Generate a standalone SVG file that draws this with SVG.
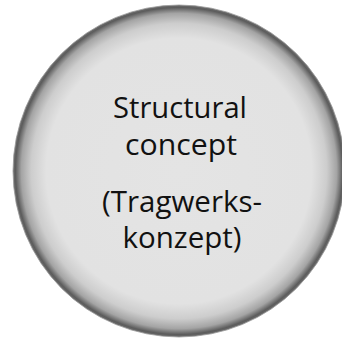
<svg xmlns="http://www.w3.org/2000/svg" width="342" height="339" viewBox="0 0 342 339">
  <defs>
    <!-- soft sphere shading: flat light face, darkening toward the rim -->
    <radialGradient id="discShade" cx="0.5" cy="0.5" r="0.5">
      <stop offset="0" stop-color="#e4e4e4"/>
      <stop offset="0.8" stop-color="#e2e2e2"/>
      <stop offset="0.89" stop-color="#cdcdcd"/>
      <stop offset="0.95" stop-color="#a4a4a4"/>
      <stop offset="0.985" stop-color="#5c5c5c"/>
      <stop offset="1" stop-color="#6e6e6e"/>
    </radialGradient>
    <style>
      .label { font-family: "Open Sans", "Noto Sans", "Liberation Sans", sans-serif; font-size: 30px; fill: #111111; text-anchor: middle; }
    </style>
  </defs>
  <rect width="342" height="339" fill="#ffffff"/>
  <g id="structural-concept">
    <circle cx="179" cy="171" r="166" fill="url(#discShade)" stroke="#9a9a9a" stroke-width="0.8"/>
    <text class="label" x="180" y="118" textLength="134" lengthAdjust="spacingAndGlyphs">Structural</text>
    <text class="label" x="181" y="155" textLength="112" lengthAdjust="spacingAndGlyphs">concept</text>
    <text class="label" x="182" y="212" textLength="160" lengthAdjust="spacingAndGlyphs">(Tragwerks-</text>
    <text class="label" x="182" y="248" textLength="119" lengthAdjust="spacingAndGlyphs">konzept)</text>
  </g>
  <g id="connectors"/>
</svg>
